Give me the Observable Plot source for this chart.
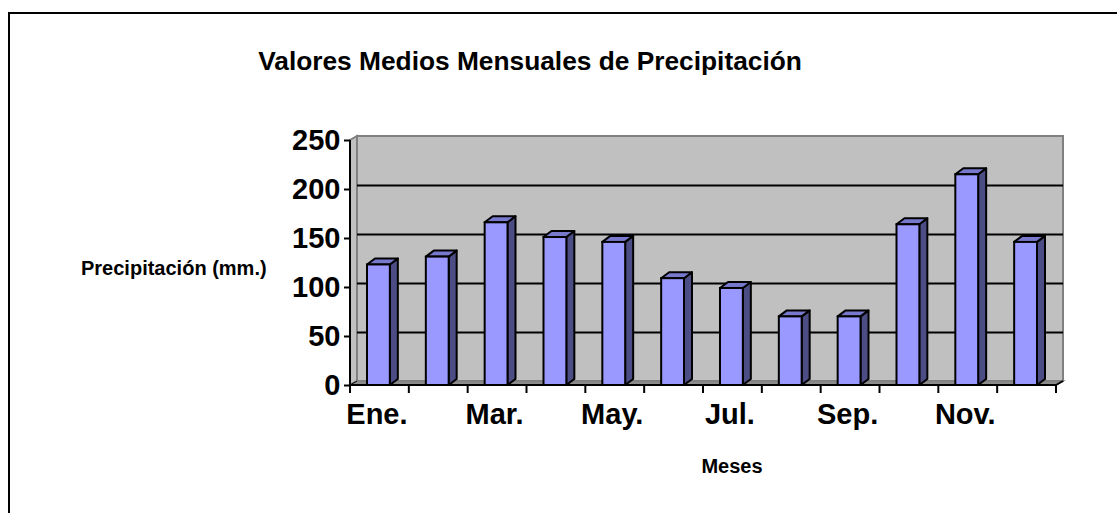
<!DOCTYPE html>
<html>
<head>
<meta charset="utf-8">
<script src="https://cdn.jsdelivr.net/npm/d3@7"></script>
<script src="https://cdn.jsdelivr.net/npm/@observablehq/plot@0.6"></script>
<style>
html, body { margin: 0; padding: 0; background: #fff; }
#wrap { position: relative; width: 1117px; height: 513px; overflow: hidden; font-family: "Liberation Sans", Arial, sans-serif; background: #fff; }
#border { position: absolute; left: 8px; top: 12px; width: 1300px; height: 700px; border-left: 2px solid #000; border-top: 2px solid #000; }
#chart { position: absolute; left: 0; top: 0; }
.lbl { position: absolute; font-weight: bold; color: #000; white-space: nowrap; line-height: 1; }
#title { left: 530px; top: 61px; transform: translate(-50%, -50%); font-size: 26.3px; }
#ylabel { left: 81px; top: 268px; transform: translate(0, -50%); font-size: 20px; }
#xlabel { left: 732px; top: 466px; transform: translate(-50%, -50%); font-size: 20px; }
</style>
</head>
<body>
<div id="wrap">
  <div id="border"></div>
  <div id="chart"></div>
  <div class="lbl" id="title">Valores Medios Mensuales de Precipitación</div>
  <div class="lbl" id="ylabel">Precipitación (mm.)</div>
  <div class="lbl" id="xlabel">Meses</div>
</div>
<script>
// Data
const months = ["Ene.", "Feb.", "Mar.", "Abr.", "May.", "Jun.", "Jul.", "Ago.", "Sep.", "Oct.", "Nov.", "Dic."];
const precip = [123, 131, 166, 151, 146, 109, 99, 70, 70, 164, 215, 146];
const yTicks = [0, 50, 100, 150, 200, 250];
const gridTicks = [50, 100, 150, 200];
const xTickLabels = ["Ene.", "Mar.", "May.", "Jul.", "Sep.", "Nov."];

const rows = months.map((m, i) => ({month: m, value: precip[i]}));

// 3D look
const WDX = 7, WDY = -4;   // wall depth
const BDX = 8, BDY = -6;   // bar depth
const INSET_L = 17, INSET_R = 19;

function walls(index, scales, values, dims) {
  const y = scales.y;
  const L = dims.marginLeft, R = dims.width - dims.marginRight;
  const B = y(0), T = y(250);
  const g = d3.create("svg:g");
  g.append("rect").attr("x", L + WDX).attr("y", T + WDY).attr("width", R - L).attr("height", B - T)
    .attr("fill", "#c0c0c0").attr("stroke", "#808080").attr("stroke-width", 2);
  g.append("path").attr("d", `M${L},${B}L${L + WDX},${B + WDY}L${L + WDX},${T + WDY}L${L},${T}Z`)
    .attr("fill", "#c0c0c0").attr("stroke", "#808080").attr("stroke-width", 2);
  g.append("path").attr("d", `M${L},${B}L${R},${B}L${R + WDX},${B + WDY}L${L + WDX},${B + WDY}Z`)
    .attr("fill", "#8c8c8c").attr("stroke", "#808080").attr("stroke-width", 1.5);
  return g.node();
}

function axesLines(index, scales, values, dims) {
  const x = scales.x, y = scales.y;
  const L = dims.marginLeft, R = dims.width - dims.marginRight;
  const B = y(0), T = y(250);
  const g = d3.create("svg:g").attr("stroke", "#000").attr("stroke-width", 2).attr("fill", "none");
  g.append("line").attr("x1", L).attr("x2", L).attr("y1", B).attr("y2", T);
  g.append("line").attr("x1", L).attr("x2", R).attr("y1", B).attr("y2", B);
  g.append("line").attr("x1", R).attr("x2", R + WDX).attr("y1", B).attr("y2", B + WDY);
  g.append("line").attr("x1", L).attr("x2", L + WDX).attr("y1", B).attr("y2", B + WDY).attr("stroke-width", 1);
  for (let i = 0; i <= months.length; i++) {
    const xx = i < months.length ? x(months[i]) : R;
    g.append("line").attr("x1", xx).attr("x2", xx).attr("y1", B).attr("y2", B + 8);
  }
  return g.node();
}

function barDepth(index, scales, values, dims) {
  const x = scales.x, y = scales.y;
  const L = dims.marginLeft, R = dims.width - dims.marginRight;
  const bw = (R - L) / months.length;
  const g = d3.create("svg:g").attr("stroke", "#000").attr("stroke-width", 2).attr("stroke-linejoin", "round");
  rows.forEach(d => {
    const x0 = x(d.month) + INSET_L, x1 = x(d.month) + bw - INSET_R;
    const yt = y(d.value), yb = y(0);
    g.append("path").attr("d", `M${x1},${yb}L${x1 + BDX},${yb + BDY}L${x1 + BDX},${yt + BDY}L${x1},${yt}Z`)
      .attr("fill", "#4d4d85");
    g.append("path").attr("d", `M${x0},${yt}L${x0 + BDX},${yt + BDY}L${x1 + BDX},${yt + BDY}L${x1},${yt}Z`)
      .attr("fill", "#7878cc");
  });
  return g.node();
}

const chart = Plot.plot({
  width: 1117,
  height: 513,
  marginLeft: 350,
  marginRight: 61,
  marginTop: 140,
  marginBottom: 128,
  style: {background: "transparent", fontFamily: "'Liberation Sans', Arial, sans-serif", color: "#000", overflow: "visible"},
  x: {type: "band", domain: months, padding: 0, round: false, axis: null},
  y: {domain: [0, 250], axis: null},
  marks: [
    walls,
    Plot.ruleY(gridTicks, {dx: WDX, dy: WDY, stroke: "#000", strokeWidth: 2}),
    barDepth,
    Plot.rect(rows, {x: "month", y1: 0, y2: "value", insetLeft: INSET_L, insetRight: INSET_R, fill: "#9999ff", stroke: "#000", strokeWidth: 2}),
    axesLines,
    Plot.axisY(yTicks, {tickSize: 6, tickPadding: 4, fontSize: 29, fontWeight: "bold", strokeWidth: 2, label: null}),
    Plot.axisX(xTickLabels, {tickSize: 0, tickPadding: 18, dx: -3, fontSize: 29, fontWeight: "bold", label: null})
  ]
});
document.getElementById("chart").appendChild(chart);
</script>
</body>
</html>
